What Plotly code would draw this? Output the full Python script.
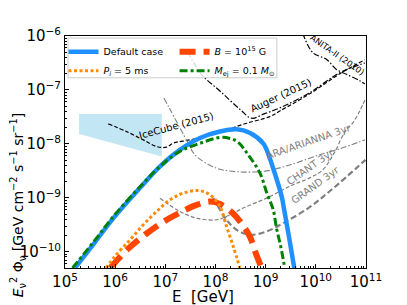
import plotly.graph_objects as go

# ---------------- data (log10 values) ----------------
# signal curves: log10(E/GeV) and log10(E^2 Phi / GeV cm^-2 s^-1 sr^-1)
default_logE = [5.2, 5.6, 5.96, 6.49, 6.89, 7.29, 7.69, 8.09, 8.42, 8.69, 8.95, 9.02, 9.18, 9.32, 9.38, 9.47, 9.57]
default_logF = [-10.3, -9.82, -9.38, -8.82, -8.42, -8.11, -7.89, -7.77, -7.73, -7.8, -7.99, -8.11, -8.54, -8.98, -9.28, -9.75, -10.3]

bfield_logE = [5.9, 6.25, 6.6, 6.95, 7.3, 7.6, 7.9, 8.1, 8.35, 8.5, 8.685, 8.8, 8.92]
bfield_logF = [-10.3, -9.95, -9.68, -9.45, -9.27, -9.14, -9.07, -9.12, -9.29, -9.45, -9.72, -10.02, -10.3]

period_logE = [5.82, 6.0, 6.295, 6.56, 6.827, 7.092, 7.357, 7.655, 7.888, 8.088, 8.22, 8.353, 8.486]
period_logF = [-10.3, -10.08, -9.78, -9.5, -9.254, -9.037, -8.913, -8.864, -8.944, -9.16, -9.53, -9.9, -10.3]

mej_logE = [5.15, 5.6, 5.96, 6.49, 6.89, 7.29, 7.69, 8.09, 8.29, 8.45, 8.65, 8.885, 9.03, 9.15, 9.22, 9.3, 9.38]
mej_logF = [-10.3, -9.78, -9.35, -8.8, -8.42, -8.14, -7.99, -7.88, -7.9, -7.97, -8.2, -8.54, -8.93, -9.22, -9.58, -9.9, -10.3]

# experimental limits / sensitivities
icecube_logE = [5.863, 6.229, 6.56, 6.827, 7.026, 7.157, 7.49, 7.823, 8.22, 8.62, 9.084, 9.283, 9.88, 10.478, 10.976]
icecube_logF = [-7.63, -7.772, -7.926, -8.05, -8.061, -7.987, -7.926, -7.852, -7.74, -7.617, -7.494, -7.39, -7.07, -6.70, -6.44]

auger_logE = [7.45, 7.72, 8.1, 8.486, 8.72, 8.98, 9.283, 9.88, 10.478, 10.976]
auger_logF = [-6.3, -6.71, -7.03, -7.357, -7.524, -7.44, -7.333, -7.05, -6.68, -6.5]

anita_logE = [9.74, 9.94, 10.21, 10.41, 10.61, 10.876, 10.976]
anita_logF = [-5.95, -6.31, -6.43, -6.62, -6.71, -6.83, -6.89]

ara_logE = [6.972, 7.092, 7.456, 7.59, 8.022, 8.486, 9.024, 9.48, 10.08, 10.478, 10.976]
ara_logF = [-7.148, -7.357, -7.987, -8.204, -8.45, -8.519, -8.5, -8.39, -8.2, -8.09, -7.926]

chant_logE = [6.892, 7.291, 7.624, 8.022, 8.287, 8.552, 9.018, 9.542, 9.88, 10.139, 10.378, 10.578, 10.737, 10.876, 10.996]
chant_logF = [-9.006, -9.254, -9.376, -9.407, -9.315, -9.19, -9.006, -8.759, -8.63, -8.481, -8.148, -7.778, -7.611, -7.389, -7.148]

grand_logE = [7.954, 8.22, 8.42, 8.685, 9.018, 9.349, 9.85, 10.3, 10.99]
grand_logF = [-9.0, -9.407, -9.593, -9.685, -9.624, -9.469, -9.19, -8.86, -8.296]

# IceCube (2015) astrophysical flux band (polygon corners)
band_logE = [5.28, 6.93, 6.93, 5.28, 5.28]
band_logF = [-7.444, -7.444, -8.235, -7.815, -7.444]

# axis ticks
xtick_exps = [5, 6, 7, 8, 9, 10, 11]
ytick_exps = [-10, -9, -8, -7, -6]


def tolin(v):
    return [10 ** a for a in v]


fig = go.Figure()

fig.add_trace(go.Scatter(x=tolin(band_logE), y=tolin(band_logF), fill="toself",
                         fillcolor="rgba(135,206,235,0.5)", line=dict(width=0),
                         mode="lines", showlegend=False, hoverinfo="skip"))

ref_style = dict(mode="lines", showlegend=False, hoverinfo="skip")
fig.add_trace(go.Scatter(x=tolin(icecube_logE), y=tolin(icecube_logF), line=dict(color="black", width=1.2, dash="4px,2px", shape="spline"), **ref_style))
fig.add_trace(go.Scatter(x=tolin(auger_logE), y=tolin(auger_logF), line=dict(color="black", width=1.2, dash="6px,2px,1.5px,2px", shape="spline"), **ref_style))
fig.add_trace(go.Scatter(x=tolin(anita_logE), y=tolin(anita_logF), line=dict(color="black", width=1.2, dash="6px,2px,1.5px,2px", shape="spline"), **ref_style))
fig.add_trace(go.Scatter(x=tolin(ara_logE), y=tolin(ara_logF), line=dict(color="gray", width=1.1, dash="6px,2px,1.5px,2px", shape="spline"), **ref_style))
fig.add_trace(go.Scatter(x=tolin(chant_logE), y=tolin(chant_logF), line=dict(color="gray", width=1.2, dash="4px,2px", shape="spline"), **ref_style))
fig.add_trace(go.Scatter(x=tolin(grand_logE), y=tolin(grand_logF), line=dict(color="gray", width=2.2, dash="6px,3px", shape="spline"), **ref_style))

fig.add_trace(go.Scatter(x=tolin(default_logE), y=tolin(default_logF), mode="lines", name="Default case",
                         legend="legend", line=dict(color="dodgerblue", width=4.5, shape="spline")))
fig.add_trace(go.Scatter(x=tolin(bfield_logE), y=tolin(bfield_logF), mode="lines", name="<i>B</i> = 10<sup>15</sup> G",
                         legend="legend2", line=dict(color="orangered", width=6, dash="16px,8px", shape="spline")))
fig.add_trace(go.Scatter(x=tolin(period_logE), y=tolin(period_logF), mode="lines", name="<i>P<sub>i</sub></i> = 5 ms",
                         legend="legend", line=dict(color="darkorange", width=3, dash="3px,2.5px", shape="spline")))
fig.add_trace(go.Scatter(x=tolin(mej_logE), y=tolin(mej_logF), mode="lines", name="<i>M</i><sub>ej</sub> = 0.1 <i>M</i><sub>⊙</sub>",
                         legend="legend2", line=dict(color="green", width=3, dash="8px,3px,3px,3px", shape="spline")))

labels = [
    ("IceCube (2015)", 7.231, -7.667, -15, "black", 10),
    ("Auger (2015)", 9.303, -7.111, -25, "black", 10),
    ("ANITA-II (2010)", 10.43, -6.36, 35, "black", 8.5),
    ("ARA/ARIANNA 3yr", 9.861, -7.963, -19, "gray", 10),
    ("CHANT 3yr", 9.9, -8.426, -35, "gray", 10),
    ("GRAND 3yr", 10.0, -8.759, -36, "gray", 10),
]
for txt, lx, ly, ang, col, fs in labels:
    fig.add_annotation(x=lx, y=ly, xref="x", yref="y", text=txt, showarrow=False,
                       textangle=ang, font=dict(color=col, size=fs, family="DejaVu Sans"))

# axis titles as annotations (paper coordinates)
fig.add_annotation(x=0.458, y=-0.124, xref="paper", yref="paper", text="E&nbsp;&nbsp;[GeV]", showarrow=False,
                   xanchor="center", yanchor="middle", font=dict(size=15, family="DejaVu Sans", color="black"))
fig.add_annotation(x=-0.155, y=0.272, xref="paper", yref="paper",
                   text="<i>E</i><sub>ν</sub><sup>2</sup> Φ<sub>ν</sub> [GeV cm<sup>−2</sup> s<sup>−1</sup> sr<sup>−1</sup>]",
                   showarrow=False, textangle=-90, xanchor="center", yanchor="middle",
                   font=dict(size=14, family="DejaVu Sans", color="black"))

# legend frame
fig.add_shape(type="rect", xref="paper", yref="paper", x0=0.01, x1=0.704, y0=0.82, y1=0.991,
              line=dict(color="#cccccc", width=1), fillcolor="rgba(255,255,255,0.85)", layer="above")

minor_x = [k * 10.0 ** n for n in range(5, 11) for k in range(2, 10)]
minor_y = [k * 10.0 ** n for n in range(-11, -6) for k in range(2, 10)]

axis_common = dict(type="log", showgrid=False, zeroline=False, showline=True, linecolor="black",
                   linewidth=1, mirror=True, ticks="inside", ticklen=4, tickcolor="black",
                   automargin=False,
                   tickfont=dict(size=15, family="DejaVu Sans", color="black"))

fig.update_xaxes(range=[5, 11], tickvals=tolin(xtick_exps),
                 ticktext=[f"10<sup>{e}</sup>" for e in xtick_exps],
                 minor=dict(ticks="inside", ticklen=2, tickcolor="black", showgrid=False, tickvals=minor_x),
                 **axis_common)
fig.update_yaxes(range=[-10.301, -6], tickvals=tolin(ytick_exps),
                 ticktext=[f"10<sup>−{-e}</sup>" for e in ytick_exps],
                 minor=dict(ticks="inside", ticklen=2, tickcolor="black", showgrid=False, tickvals=minor_y),
                 **axis_common)

legend_common = dict(orientation="v", y=0.995, xanchor="left", yanchor="top", itemwidth=30,
                     bgcolor="rgba(255,255,255,0)", borderwidth=0, tracegroupgap=0,
                     font=dict(size=9.5, family="DejaVu Sans"))

# the page adds an 8 px body margin, so the figure is 8 px smaller than the window
fig.update_layout(
    width=399, height=297,
    margin=dict(l=57, r=41, t=28, b=37),
    paper_bgcolor="white", plot_bgcolor="white",
    font=dict(family="DejaVu Sans", color="black"),
    legend=dict(x=-0.005, **legend_common),
    legend2=dict(x=0.364, **legend_common),
)

fig.write_html("out.html")
